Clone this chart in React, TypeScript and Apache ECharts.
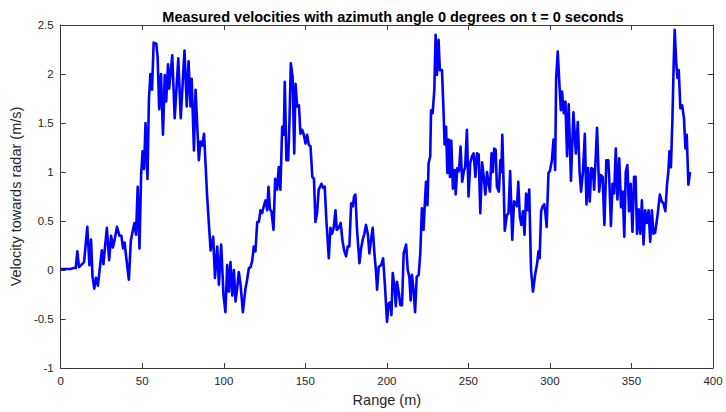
import React, { useEffect, useRef } from "react";
import * as echarts from "echarts";

const chartTitle = "Measured velocities with azimuth angle 0 degrees on t = 0 seconds";
const xAxisName = "Range (m)";
const yAxisName = "Velocity towards radar (m/s)";

const ranges: number[] = [
  0, 2, 4, 6, 8, 9.2, 10.2, 11.2, 12.5, 14.3, 16.3, 17.6, 18.6, 19.5, 20.6, 21.6, 22.8, 24, 25.2, 26.2,
  27.3, 28.3, 29.7, 30.9, 32, 33.1, 34.5, 36, 37.2, 38.2, 39.2, 40.1, 41.8, 43, 44.1, 45.2, 46.2, 47.2, 48.3, 49.3,
  50.2, 51.1, 52, 53.2, 54.1, 55, 56, 57, 58.6, 59.4, 60.4, 61.5, 62.7, 63.8, 64.7, 65.8, 66.5, 68.4, 69.9, 72.1,
  73.6, 75.9, 77.3, 78.4, 79.6, 80.3, 81.7, 82.7, 84.7, 85.7, 86.8, 87.9, 89.8, 91.9, 93.5, 94.6, 96, 97, 98.4, 99.8,
  101, 102.1, 103.1, 104.1, 105.2, 106.2, 107.2, 108.2, 109.2, 110.3, 111.7, 113.3, 114.3, 115.4, 116.4, 117.4, 118.4, 119.4, 120.5, 121.5,
  122.5, 123.5, 124.5, 125.6, 126.6, 127.4, 128.3, 129.2, 130.5, 131.5, 132.7, 133.7, 134.7, 135.8, 136.8, 137.4, 138.4, 139.5, 140.3, 141.1,
  142.2, 143.2, 144, 145, 146.1, 147, 148.1, 149.1, 150.1, 151.1, 152.1, 153.2, 154.3, 155.3, 156.2, 157.2, 158.2, 159.9, 160.9, 161.9,
  162.9, 164.4, 165.4, 166.4, 167.4, 168.5, 169.3, 170.5, 171.7, 172.7, 173.8, 175, 176, 177, 178.1, 179.1, 179.9, 180.7, 181.7, 183.2,
  184.2, 185.2, 186.2, 187.2, 188.3, 189.3, 190.3, 191.3, 192.4, 193.4, 194, 195, 196.5, 197.7, 198.9, 200.1, 201.1, 202.1, 202.8, 203.6,
  204.7, 205.5, 206.2, 207.3, 208.3, 209.3, 210.3, 211.8, 212.8, 213.8, 214.6, 215.4, 216.5, 217.3, 218.3, 219.5, 220.5, 221.5, 222.5, 223.2,
  224, 224.9, 225.6, 226.6, 227.1, 228.1, 229.1, 229.9, 230.7, 231.7, 232.5, 233.8, 234.8, 235.4, 236.3, 237.1, 237.9, 238.7, 239.5, 240.5,
  241.6, 242.2, 243.2, 244.2, 245.2, 246.2, 247.2, 248, 249.1, 250.1, 251.1, 252.2, 253.2, 254.3, 255.3, 256.3, 257.3, 258.4, 259.4, 260.4,
  261.4, 262.4, 263.2, 264.2, 265, 265.8, 266.7, 267.5, 268.7, 269.6, 270.2, 270.8, 271.6, 272.3, 273.6, 274.6, 275.6, 276.9, 278, 279,
  279.8, 280.6, 281.5, 282.5, 283.5, 284.4, 285.4, 286.5, 287.3, 288.4, 289.6, 291, 292, 293, 293.7, 294.6, 295.5, 296.5, 297.2, 298,
  299.1, 300, 301.2, 302.2, 303.2, 303.8, 304.8, 305.8, 306.7, 307.4, 308.5, 309.5, 310.5, 311.5, 312.9, 314.4, 315.9, 317.1, 318.2, 319.1,
  320.3, 321.4, 322.4, 323.4, 324.4, 325.4, 326.4, 327.1, 327.8, 328.9, 330.2, 331.2, 332.3, 333.4, 334.6, 335.8, 336.5, 337.4, 338.4, 339.4,
  340.4, 341.4, 342.5, 343.6, 344.6, 345.6, 346.5, 347.5, 348.5, 349.5, 350.6, 351.6, 352.5, 353.4, 354.4, 355.4, 356.4, 357.4, 358.4, 359.4,
  360.5, 361.5, 362.5, 363.5, 364.5, 366, 367.4, 368.6, 369.6, 370.8, 371.8, 372.6, 373.3, 374.2, 375.1, 375.9, 376.5, 377.5, 378.2, 379,
  380, 381.1, 382.2, 383.1, 383.9, 384.9, 385.9,
];

const velocities: number[] = [
  0.01, 0.01, 0.01, 0.01, 0.02, 0.02, 0.19, 0.03, 0.05, 0.08, 0.44, 0.05, 0.31, -0.07, -0.19, -0.08, -0.16, 0.02, 0.2, 0.06,
  0.26, 0.43, 0.1, 0.35, 0.23, 0.31, 0.44, 0.35, 0.35, 0.22, 0.28, 0.14, -0.1, 0.3, 0.39, 0.48, 0.36, 0.85, 0.22, 0.97,
  1.21, 1.03, 1.5, 0.93, 1.75, 2.0, 1.84, 2.32, 2.31, 2.18, 1.64, 2.0, 1.38, 1.99, 1.72, 2.1, 1.85, 2.19, 1.55, 2.16,
  1.55, 2.24, 1.67, 2.13, 1.67, 1.95, 1.22, 1.84, 1.12, 1.31, 1.27, 1.39, 0.75, 0.2, 0.34, -0.08, 0.24, -0.15, 0.26, -0.25,
  -0.43, 0.05, -0.22, 0.08, -0.26, 0.0, -0.32, -0.19, -0.02, -0.15, -0.43, -0.19, -0.1, 0.02, 0.03, 0.09, 0.24, 0.19, 0.49, 0.49,
  0.61, 0.58, 0.65, 0.71, 0.61, 0.85, 0.62, 0.6, 0.41, 0.93, 0.82, 1.05, 0.82, 1.46, 1.38, 1.92, 1.12, 1.12, 1.53, 2.11,
  1.97, 1.19, 1.9, 1.67, 1.68, 1.39, 1.43, 1.38, 1.29, 1.38, 1.28, 1.26, 0.95, 0.93, 0.49, 0.58, 0.82, 0.88, 0.84, 0.85,
  0.51, 0.12, 0.43, 0.37, 0.43, 0.61, 0.41, 0.43, 0.48, 0.31, 0.2, 0.14, 0.24, 0.24, 0.68, 0.65, 0.75, 0.77, 0.41, 0.07,
  0.22, 0.31, 0.37, 0.46, 0.37, 0.17, 0.31, 0.43, 0.17, -0.03, -0.2, 0.03, 0.05, 0.12, -0.18, -0.53, -0.34, -0.33, -0.46, -0.03,
  -0.17, -0.37, -0.12, -0.23, -0.36, -0.36, 0.17, 0.26, 0.0, -0.07, -0.31, -0.05, -0.23, -0.43, -0.07, -0.05, 0.17, 0.63, 0.41, 0.65,
  0.9, 0.66, 1.09, 1.16, 1.63, 1.6, 1.84, 2.4, 1.99, 2.35, 2.04, 2.04, 1.6, 1.28, 1.46, 0.99, 1.33, 0.95, 1.32, 0.83,
  1.02, 0.77, 1.04, 1.01, 1.26, 0.9, 1.01, 1.05, 1.43, 0.75, 1.09, 1.16, 1.19, 0.95, 1.19, 1.18, 0.58, 1.1, 0.95, 0.77,
  1.0, 0.88, 0.8, 1.19, 1.0, 1.24, 1.23, 0.85, 0.8, 1.12, 1.0, 1.38, 0.88, 0.4, 0.56, 0.58, 1.01, 0.31, 0.7, 0.68,
  0.65, 0.9, 0.55, 0.46, 0.6, 0.36, 0.78, 0.61, 0.82, 0.0, -0.22, -0.04, 0.05, 0.19, 0.12, 0.6, 0.65, 0.67, 0.58, 0.44,
  0.99, 1.01, 1.12, 1.33, 1.02, 1.95, 2.23, 1.9, 1.63, 1.82, 1.6, 1.72, 1.16, 1.69, 0.91, 1.61, 1.19, 1.51, 1.0, 0.8,
  1.01, 1.39, 0.67, 1.04, 0.7, 1.04, 1.03, 0.82, 1.05, 1.45, 0.8, 0.97, 0.95, 0.46, 1.12, 1.12, 0.88, 0.45, 0.88, 0.78,
  1.24, 0.72, 1.14, 0.64, 0.8, 0.34, 1.0, 1.07, 0.6, 0.88, 0.39, 0.95, 0.95, 0.37, 0.62, 0.37, 0.71, 0.26, 0.61, 0.48,
  0.61, 0.29, 0.61, 0.37, 0.38, 0.56, 0.77, 0.7, 0.68, 0.6, 0.87, 1.0, 1.21, 1.05, 1.53, 2.11, 2.45, 2.1, 1.96, 2.04,
  1.65, 1.68, 1.55, 1.24, 1.38, 0.87, 1.0,
];

const xMin = 0;
const xMax = 400;
const xStep = 50;
const yMin = -1;
const yMax = 2.5;
const yStep = 0.5;

const FONT = "'Liberation Sans', Arial, Helvetica, sans-serif";
const AXIS_COLOR = "#262626";
const FRAME_COLOR = "#3a3a3a";

export default function App() {
  const ref = useRef<HTMLDivElement | null>(null);

  useEffect(() => {
    if (!ref.current) return;
    const chart = echarts.init(ref.current, undefined, { renderer: "svg" });
    const data = ranges.map((r, i) => [r, velocities[i]]);

    const baseX = {
      type: "value" as const,
      min: xMin,
      max: xMax,
      interval: xStep,
      splitLine: { show: false },
      axisLine: { show: true, onZero: false, lineStyle: { color: FRAME_COLOR, width: 1 } },
      axisTick: { show: true, inside: true, length: 5, lineStyle: { color: FRAME_COLOR } },
    };
    const baseY = {
      type: "value" as const,
      min: yMin,
      max: yMax,
      interval: yStep,
      splitLine: { show: false },
      axisLine: { show: true, onZero: false, lineStyle: { color: FRAME_COLOR, width: 1 } },
      axisTick: { show: true, inside: true, length: 5, lineStyle: { color: FRAME_COLOR } },
    };

    chart.setOption({
      animation: false,
      backgroundColor: "#ffffff",
      title: {
        text: chartTitle,
        left: 388,
        top: 4,
        textAlign: "center",
        textStyle: { fontFamily: FONT, fontSize: 14.5, fontWeight: "bold", color: "#000000" },
      },
      grid: { left: 60, right: 13, top: 25, bottom: 44, containLabel: false },
      xAxis: [
        {
          ...baseX,
          position: "bottom",
          name: xAxisName,
          nameLocation: "middle",
          nameGap: 24,
          nameTextStyle: { fontFamily: FONT, fontSize: 14.5, color: AXIS_COLOR },
          axisLabel: { show: true, margin: 7, fontFamily: FONT, fontSize: 11.5, color: AXIS_COLOR },
        },
        {
          ...baseX,
          position: "top",
          axisLabel: { show: false },
        },
      ],
      yAxis: [
        {
          ...baseY,
          position: "left",
          name: yAxisName,
          nameLocation: "middle",
          nameGap: 33,
          nameTextStyle: { fontFamily: FONT, fontSize: 14.5, color: AXIS_COLOR },
          axisLabel: { show: true, margin: 7, fontFamily: FONT, fontSize: 11.5, color: AXIS_COLOR },
        },
        {
          ...baseY,
          position: "right",
          axisLabel: { show: false },
        },
      ],
      series: [
        {
          type: "line",
          xAxisIndex: 0,
          yAxisIndex: 0,
          data,
          showSymbol: false,
          symbol: "none",
          smooth: false,
          lineStyle: { color: "#0000ff", width: 2.6, join: "round" },
        },
      ],
    });

    return () => {
      chart.dispose();
    };
  }, []);

  return (
    <div
      ref={ref}
      style={{ position: "fixed", left: 0, top: 0, width: 726, height: 412, background: "#ffffff" }}
    />
  );
}
